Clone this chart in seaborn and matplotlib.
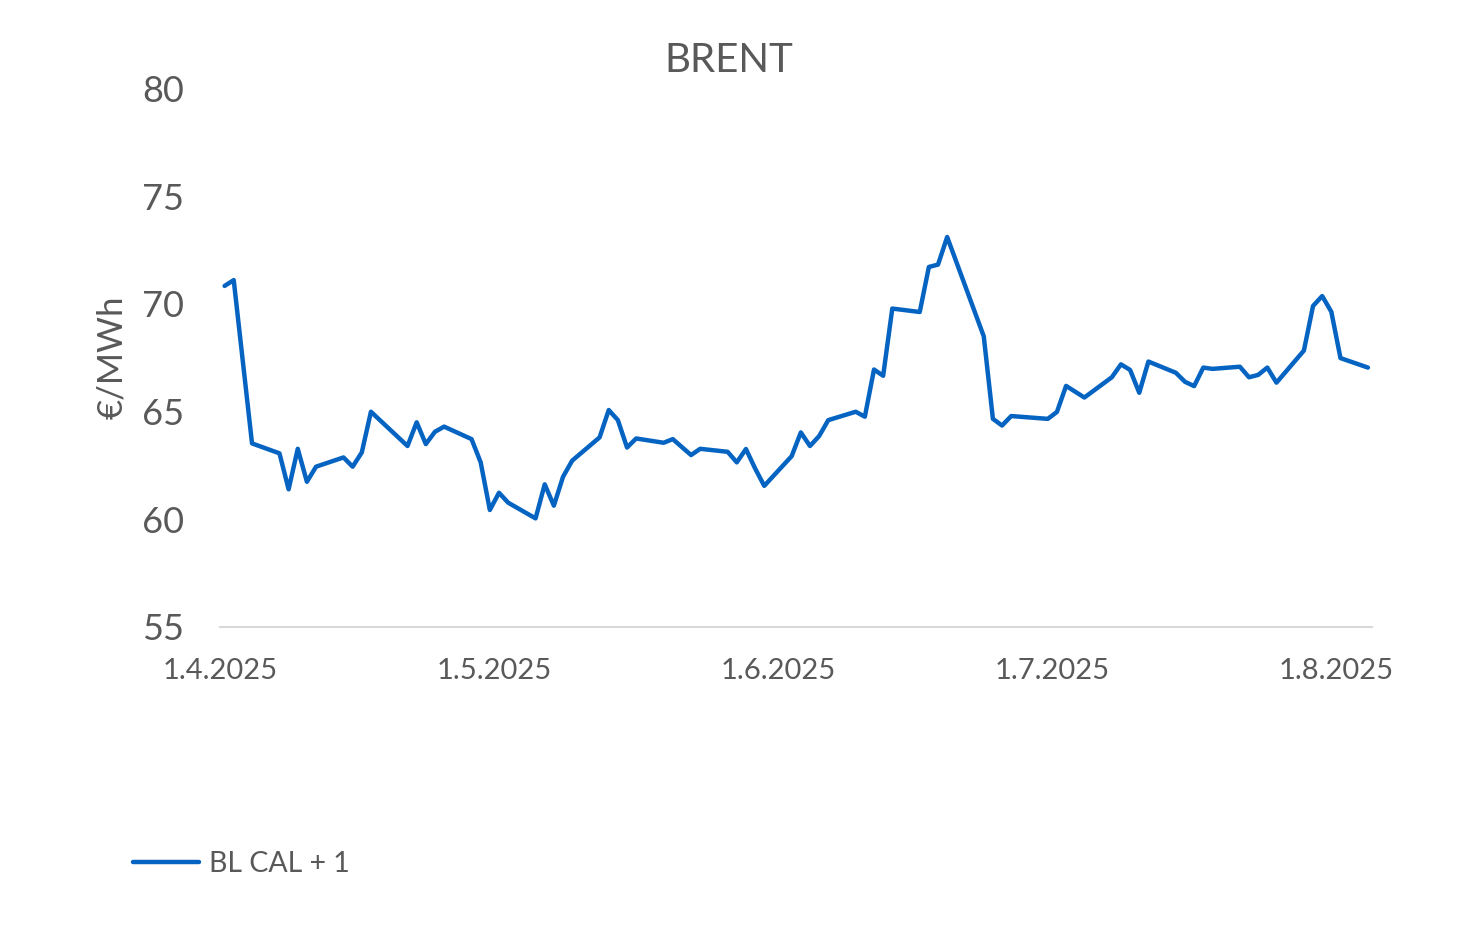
import numpy as np
import pandas as pd
import matplotlib
matplotlib.use("Agg")
import matplotlib.pyplot as plt
import matplotlib.dates as mdates
from matplotlib.ticker import FuncFormatter
import seaborn as sns

# values
dates = [
    "2025-04-01", "2025-04-02", "2025-04-04", "2025-04-07", "2025-04-08", "2025-04-09",
    "2025-04-10", "2025-04-11", "2025-04-14", "2025-04-15", "2025-04-16", "2025-04-17",
    "2025-04-21", "2025-04-22", "2025-04-23", "2025-04-24", "2025-04-25", "2025-04-28",
    "2025-04-29", "2025-04-30", "2025-05-01", "2025-05-02", "2025-05-05", "2025-05-06",
    "2025-05-07", "2025-05-08", "2025-05-09", "2025-05-12", "2025-05-13", "2025-05-14",
    "2025-05-15", "2025-05-16", "2025-05-19", "2025-05-20", "2025-05-22", "2025-05-23",
    "2025-05-26", "2025-05-27", "2025-05-28", "2025-05-29", "2025-05-30", "2025-06-02",
    "2025-06-03", "2025-06-04", "2025-06-05", "2025-06-06", "2025-06-09", "2025-06-10",
    "2025-06-11", "2025-06-12", "2025-06-13", "2025-06-16", "2025-06-17", "2025-06-18",
    "2025-06-19", "2025-06-23", "2025-06-24", "2025-06-25", "2025-06-26", "2025-06-30",
    "2025-07-01", "2025-07-02", "2025-07-04", "2025-07-07", "2025-07-08", "2025-07-09",
    "2025-07-10", "2025-07-11", "2025-07-14", "2025-07-15", "2025-07-16", "2025-07-17",
    "2025-07-18", "2025-07-21", "2025-07-22", "2025-07-23", "2025-07-24", "2025-07-25",
    "2025-07-28", "2025-07-29", "2025-07-30", "2025-07-31", "2025-08-01", "2025-08-04",
]
bl_cal1 = [
    70.83, 71.10, 63.52, 63.06, 61.39, 63.27,
    61.74, 62.44, 62.87, 62.44, 63.10, 64.99,
    63.40, 64.50, 63.49, 64.06, 64.30, 63.72,
    62.64, 60.43, 61.23, 60.77, 60.04, 61.62,
    60.63, 61.97, 62.72, 63.80, 65.07, 64.60,
    63.33, 63.75, 63.55, 63.72, 62.98, 63.27,
    63.13, 62.64, 63.26, 62.36, 61.55, 62.93,
    64.03, 63.40, 63.86, 64.60, 64.99, 64.76,
    66.95, 66.66, 69.78, 69.62, 71.71, 71.82,
    73.10, 68.49, 64.66, 64.35, 64.79, 64.66,
    64.98, 66.19, 65.65, 66.59, 67.19, 66.93,
    65.87, 67.32, 66.80, 66.38, 66.18, 67.04,
    66.98, 67.08, 66.59, 66.70, 67.04, 66.34,
    67.83, 69.90, 70.36, 69.63, 67.48, 67.04,
]
tick_dates = ["2025-04-01", "2025-05-01", "2025-06-01", "2025-07-01", "2025-08-01"]
y_ticks = [55, 60, 65, 70, 75, 80]

# points sit mid-day, like the spreadsheet's date axis
df = pd.DataFrame({"date": pd.to_datetime(dates) + pd.Timedelta(hours=12),
                   "value": bl_cal1})

sns.set_theme(style="white")
plt.rcParams["font.family"] = ["Lato", "DejaVu Sans"]

grey = "#595959"
blue = "#0563C1"

fig = plt.figure(figsize=(14.57, 9.40), dpi=100)
ax = fig.add_axes([0.151, 0.333, 0.791, 0.573])

sns.lineplot(data=df, x="date", y="value", ax=ax, color=blue, linewidth=3.2,
             label="BL CAL + 1", legend=False)

ax.set_xlim(pd.Timestamp("2025-04-01"), pd.Timestamp("2025-08-05"))
ax.set_ylim(55, 80)
ax.set_yticks(y_ticks)
ax.set_xticks(pd.to_datetime(tick_dates))
ax.xaxis.set_major_formatter(FuncFormatter(
    lambda v, pos: "{0.day}.{0.month}.{0.year}".format(mdates.num2date(v))))

for side in ["left", "right", "top"]:
    ax.spines[side].set_visible(False)
ax.spines["bottom"].set_color("#d9d9d9")
ax.spines["bottom"].set_linewidth(1.5)

ax.tick_params(axis="x", direction="out", length=8, width=1.5, color="#d9d9d9",
               labelsize=21, labelcolor=grey, pad=14)
ax.tick_params(axis="y", length=0, labelsize=26, labelcolor=grey, pad=26)

ax.set_xlabel("")
ax.set_ylabel("€/MWh", fontsize=25, color=grey, labelpad=10)
fig.suptitle("BRENT", x=0.5, y=0.955, fontsize=29, color=grey)

handles, labels = ax.get_legend_handles_labels()
fig.legend(handles, labels, loc="lower left", bbox_to_anchor=(0.074, 0.04),
           frameon=False, fontsize=20.5, labelcolor=grey, handlelength=2.3,
           handletextpad=0.35)

fig.savefig("out.png", dpi=100, facecolor="white")
